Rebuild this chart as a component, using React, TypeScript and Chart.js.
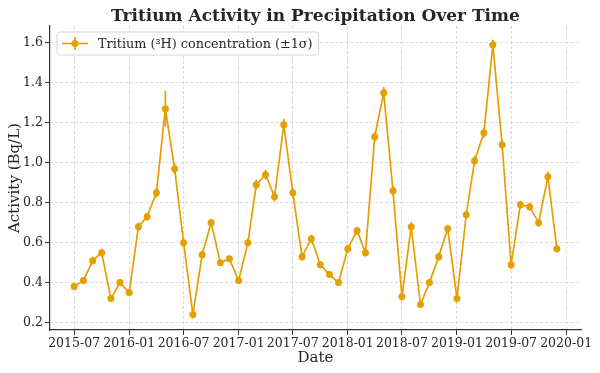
import { useEffect, useRef } from "react";
import { Chart, registerables } from "chart.js";
Chart.register(...registerables);

const months = [
  "2015-07", "2015-08", "2015-09", "2015-10", "2015-11", "2015-12",
  "2016-01", "2016-02", "2016-03", "2016-04", "2016-05", "2016-06",
  "2016-07", "2016-08", "2016-09", "2016-10", "2016-11", "2016-12",
  "2017-01", "2017-02", "2017-03", "2017-04", "2017-05", "2017-06",
  "2017-07", "2017-08", "2017-09", "2017-10", "2017-11", "2017-12",
  "2018-01", "2018-02", "2018-03", "2018-04", "2018-05", "2018-06",
  "2018-07", "2018-08", "2018-09", "2018-10", "2018-11", "2018-12",
  "2019-01", "2019-02", "2019-03", "2019-04", "2019-05", "2019-06",
  "2019-07", "2019-08", "2019-09", "2019-10", "2019-11", "2019-12",
];

const activity = [
  0.38, 0.41, 0.51, 0.55, 0.32, 0.40,
  0.35, 0.68, 0.73, 0.85, 1.27, 0.97,
  0.60, 0.24, 0.54, 0.70, 0.50, 0.52,
  0.41, 0.60, 0.89, 0.94, 0.83, 1.19,
  0.85, 0.53, 0.62, 0.49, 0.44, 0.40,
  0.57, 0.66, 0.55, 1.13, 1.35, 0.86,
  0.33, 0.68, 0.29, 0.40, 0.53, 0.67,
  0.32, 0.74, 1.01, 1.15, 1.59, 1.09,
  0.49, 0.79, 0.78, 0.70, 0.93, 0.57,
];

const sigma = [
  0.015, 0.015, 0.02, 0.02, 0.012, 0.015,
  0.012, 0.02, 0.02, 0.025, 0.09, 0.025,
  0.02, 0.008, 0.02, 0.02, 0.015, 0.015,
  0.015, 0.02, 0.025, 0.025, 0.025, 0.03,
  0.025, 0.02, 0.02, 0.015, 0.015, 0.015,
  0.02, 0.02, 0.02, 0.025, 0.03, 0.025,
  0.012, 0.02, 0.01, 0.015, 0.02, 0.02,
  0.012, 0.02, 0.025, 0.025, 0.025, 0.025,
  0.015, 0.02, 0.02, 0.02, 0.025, 0.02,
];

const xTickLabels = [
  "2015-07", "2016-01", "2016-07", "2017-01", "2017-07",
  "2018-01", "2018-07", "2019-01", "2019-07", "2020-01",
];

const yTickValues = [0.2, 0.4, 0.6, 0.8, 1.0, 1.2, 1.4, 1.6];

const TITLE = "Tritium Activity in Precipitation Over Time";
const LEGEND_LABEL = "Tritium (\u00B3H) concentration (\u00B11\u03C3)";
const X_TITLE = "Date";
const Y_TITLE = "Activity (Bq/L)";

const COLOR = "#E69F00";
const TEXT = "#262626";
const FONT = '"DejaVu Serif", serif';

const DAY = 86400000;
const toDay = (m: string) => {
  const [y, mo] = m.split("-").map(Number);
  return Date.UTC(y, mo - 1, 1) / DAY;
};

export default function App() {
  const ref = useRef<HTMLCanvasElement | null>(null);

  useEffect(() => {
    document.body.style.margin = "0";
    const canvas = ref.current;
    if (!canvas) return;

    const xs = months.map(toDay);
    const xMinD = Math.min(...xs);
    const xMaxD = Math.max(...xs);
    const xPad = (xMaxD - xMinD) * 0.05;
    const lo = Math.min(...activity.map((v, i) => v - sigma[i]));
    const hi = Math.max(...activity.map((v, i) => v + sigma[i]));
    const yPad = (hi - lo) * 0.05;

    const errorBars = {
      id: "errorBars",
      beforeDatasetsDraw(chart: any) {
        const { ctx, scales } = chart;
        const xs2 = scales.x;
        const ys = scales.y;
        ctx.save();
        ctx.strokeStyle = COLOR;
        ctx.lineWidth = 1.7;
        activity.forEach((v, i) => {
          const px = xs2.getPixelForValue(xs[i]);
          ctx.beginPath();
          ctx.moveTo(px, ys.getPixelForValue(v - sigma[i]));
          ctx.lineTo(px, ys.getPixelForValue(v + sigma[i]));
          ctx.stroke();
        });
        ctx.restore();
      },
    };

    const decorations = {
      id: "decorations",
      afterDraw(chart: any) {
        const { ctx, chartArea } = chart;
        const cx = (chartArea.left + chartArea.right) / 2;
        const cy = (chartArea.top + chartArea.bottom) / 2;
        ctx.save();
        ctx.fillStyle = TEXT;
        // title
        ctx.font = `bold 17px ${FONT}`;
        ctx.textAlign = "center";
        ctx.textBaseline = "alphabetic";
        ctx.fillText(TITLE, cx, 21);
        // x title
        ctx.font = `15px ${FONT}`;
        ctx.fillText(X_TITLE, cx, 362);
        // y title
        ctx.save();
        ctx.translate(19, cy);
        ctx.rotate(-Math.PI / 2);
        ctx.fillText(Y_TITLE, 0, 0);
        ctx.restore();

        // legend
        const lx = chartArea.left + 7;
        const ly = chartArea.top + 6;
        ctx.font = `12.8px ${FONT}`;
        const tw = ctx.measureText(LEGEND_LABEL).width;
        const w = 41 + tw + 6;
        const h = 23;
        const r = 3;
        ctx.beginPath();
        ctx.moveTo(lx + r, ly);
        ctx.lineTo(lx + w - r, ly);
        ctx.arcTo(lx + w, ly, lx + w, ly + r, r);
        ctx.lineTo(lx + w, ly + h - r);
        ctx.arcTo(lx + w, ly + h, lx + w - r, ly + h, r);
        ctx.lineTo(lx + r, ly + h);
        ctx.arcTo(lx, ly + h, lx, ly + h - r, r);
        ctx.lineTo(lx, ly + r);
        ctx.arcTo(lx, ly, lx + r, ly, r);
        ctx.closePath();
        ctx.fillStyle = "rgba(255,255,255,0.85)";
        ctx.fill();
        ctx.strokeStyle = "#d6d6d6";
        ctx.lineWidth = 1;
        ctx.stroke();
        const hy = ly + h / 2;
        ctx.strokeStyle = COLOR;
        ctx.lineWidth = 1.7;
        ctx.beginPath();
        ctx.moveTo(lx + 5, hy);
        ctx.lineTo(lx + 31, hy);
        ctx.moveTo(lx + 18, hy - 6.5);
        ctx.lineTo(lx + 18, hy + 6.5);
        ctx.stroke();
        ctx.fillStyle = COLOR;
        ctx.beginPath();
        ctx.arc(lx + 18, hy, 3.5, 0, Math.PI * 2);
        ctx.fill();
        ctx.fillStyle = TEXT;
        ctx.textAlign = "left";
        ctx.textBaseline = "middle";
        ctx.fillText(LEGEND_LABEL, lx + 41, hy + 1);
        ctx.restore();
      },
    };

    const chart = new Chart(canvas, {
      type: "line",
      data: {
        datasets: [
          {
            label: LEGEND_LABEL,
            data: months.map((m, i) => ({ x: xs[i], y: activity[i] })),
            borderColor: COLOR,
            backgroundColor: COLOR,
            borderWidth: 1.7,
            pointRadius: 3.5,
            pointBorderWidth: 0,
            pointBackgroundColor: COLOR,
            tension: 0,
          },
        ],
      },
      options: {
        animation: false,
        responsive: false,
        events: [],
        layout: { padding: { top: 26, right: 19, left: 0, bottom: 0 } },
        plugins: {
          legend: { display: false },
          title: { display: false },
          tooltip: { enabled: false },
        },
        scales: {
          x: {
            type: "linear",
            min: xMinD - xPad,
            max: xMaxD + xPad,
            afterBuildTicks: (s: any) => {
              s.ticks = xTickLabels.map((l) => ({ value: toDay(l) }));
            },
            afterFit: (s: any) => {
              s.height = 43;
            },
            ticks: {
              autoSkip: false,
              maxRotation: 0,
              minRotation: 0,
              padding: 1,
              color: TEXT,
              font: { family: FONT, size: 12.5 },
              callback: (_v: any, i: number) => xTickLabels[i],
            },
            grid: {
              color: "#d0d0d0",
              lineWidth: 0.8,
              tickLength: 5,
              tickColor: "#333",
              tickWidth: 1,
              tickBorderDash: [],
            },
            border: { display: true, color: "#333", width: 1.2, dash: [3, 2] },
          },
          y: {
            type: "linear",
            min: lo - yPad,
            max: hi + yPad,
            afterBuildTicks: (s: any) => {
              s.ticks = yTickValues.map((v) => ({ value: v }));
            },
            afterFit: (s: any) => {
              s.width = 50;
            },
            ticks: {
              padding: 2,
              color: TEXT,
              font: { family: FONT, size: 12.5 },
              callback: (v: any) => Number(v).toFixed(1),
            },
            grid: {
              color: "#d0d0d0",
              lineWidth: 0.8,
              tickLength: 5,
              tickColor: "#333",
              tickWidth: 1,
              tickBorderDash: [],
            },
            border: { display: true, color: "#333", width: 1.2, dash: [3, 2] },
          },
        },
      },
      plugins: [errorBars, decorations],
    } as any);

    return () => chart.destroy();
  }, []);

  return (
    <div style={{ position: "fixed", left: 0, top: 0, width: 600, height: 373, background: "#fff" }}>
      <canvas ref={ref} width={600} height={373} style={{ display: "block" }} />
    </div>
  );
}
